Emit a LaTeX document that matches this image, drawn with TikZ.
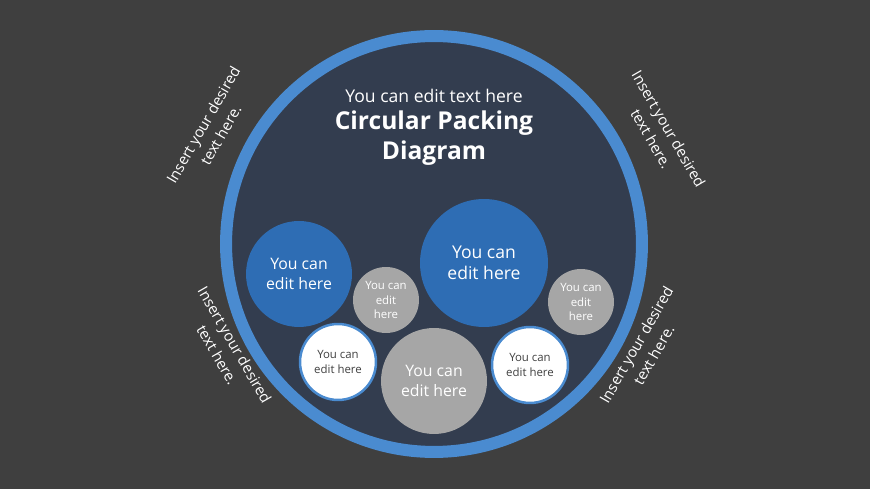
\documentclass[tikz,border=0pt]{standalone}
\usepackage{fontspec}
\setmainfont{Open Sans}
\definecolor{bg}{HTML}{3F3F3F}
\definecolor{inner}{HTML}{333D4F}
\definecolor{ring}{HTML}{4A8BD0}
\definecolor{bluefill}{HTML}{2E6DB4}
\definecolor{grayfill}{HTML}{A6A6A6}
\begin{document}
\begin{tikzpicture}[x=0.02cm, y=-0.02cm,
    bubble/.style={circle, inner sep=0pt, align=center, text=white},
    note/.style={align=center, text=white, font=\fontsize{8.5}{11.5}\selectfont}]
  \fill[bg] (0,0) rectangle (870,489);
  \useasboundingbox (0,0) rectangle (870,489);
  % outer circle
  \node[circle, minimum size=8.32cm, inner sep=0pt, fill=inner, draw=ring, line width=0.24cm] (outer) at (434,244) {};
  \node[text=white, font=\fontsize{10}{12}\selectfont] (sub) at (434,96) {You can edit text here};
  \node[text=white, align=center, font=\bfseries\fontsize{14}{17}\selectfont] (title) at (434,138) {Circular Packing\\Diagram};
  % bubbles
  \begin{scope}[font=\fontsize{9}{11}\selectfont]
    \node[bubble, fill=bluefill, minimum size=2.12cm] (b1) at (299,274) {You can\\edit here};
    \node[bubble, fill=bluefill, minimum size=2.56cm, font=\fontsize{10}{12}\selectfont] (b2) at (484,263) {You can\\edit here};
    \node[bubble, fill=grayfill, minimum size=2.12cm] (g3) at (434,381) {You can\\edit here};
  \end{scope}
  \begin{scope}[font=\fontsize{6.5}{8}\selectfont]
    \node[bubble, fill=grayfill, minimum size=1.32cm] (g1) at (386,300) {You can\\edit\\here};
    \node[bubble, fill=grayfill, minimum size=1.32cm] (g2) at (581,302) {You can\\edit\\here};
    \node[bubble, fill=white, draw=ring, line width=0.05cm, text=black!75, minimum size=1.52cm] (w1) at (338,362) {You can\\edit here};
    \node[bubble, fill=white, draw=ring, line width=0.05cm, text=black!75, minimum size=1.52cm] (w2) at (530,365) {You can\\edit here};
  \end{scope}
  % side notes
  \node[note, rotate=60] (n1) at (212,130) {Insert your desired\\text here.};
  \node[note, rotate=-60] (n2) at (660,134) {Insert your desired\\text here.};
  \node[note, rotate=-60] (n3) at (226,350) {Insert your desired\\text here.};
  \node[note, rotate=60] (n4) at (645,350) {Insert your desired\\text here.};
\end{tikzpicture}
\end{document}
